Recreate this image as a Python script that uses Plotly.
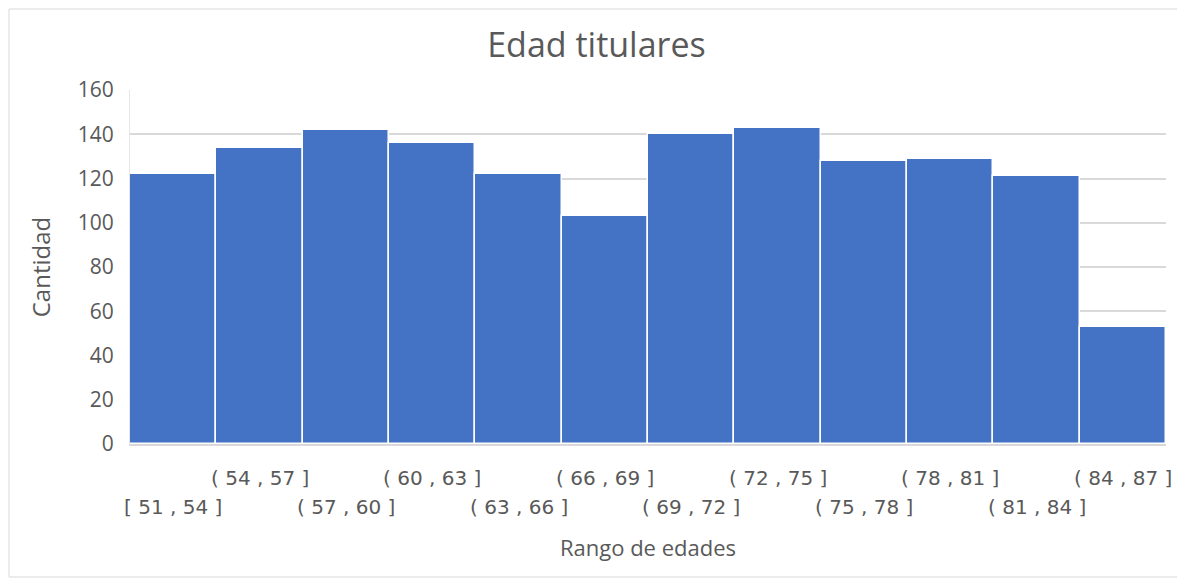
import plotly.graph_objects as go

# Age ranges and counts
rangos = ["[ 51 , 54 ]", "( 54 , 57 ]", "( 57 , 60 ]", "( 60 , 63 ]", "( 63 , 66 ]", "( 66 , 69 ]",
          "( 69 , 72 ]", "( 72 , 75 ]", "( 75 , 78 ]", "( 78 , 81 ]", "( 81 , 84 ]", "( 84 , 87 ]"]
cantidad = [122, 134, 142, 136, 122, 103, 140, 143, 128, 129, 121, 53]
y_ticks = [0, 20, 40, 60, 80, 100, 120, 140, 160]

FONT = "Open Sans, Noto Sans, sans-serif"
TICK_FONT = "DejaVu Sans, sans-serif"
GRAY = "#595959"

# page body adds 8px, so the figure is sized to fit the 1185x582 window
W, H = 1177, 574
M = dict(l=122, r=19, t=82, b=138)
PW = W - M['l'] - M['r']
PH = H - M['t'] - M['b']

x_pos = list(range(len(rangos)))

fig = go.Figure()

fig.add_trace(go.Bar(
    x=x_pos,
    y=cantidad,
    marker=dict(color="#4472C4", line=dict(color="white", width=1.5)),
    customdata=rangos,
    hovertemplate="%{customdata}<br>Cantidad: %{y}<extra></extra>",
))

# Excel-style staggered category labels: even positions on the lower row
for i, r in enumerate(rangos):
    fig.add_annotation(
        x=i, xref="x", y=0, yref="paper",
        text=r, showarrow=False,
        xanchor="center", yanchor="middle",
        yshift=-63 if i % 2 == 0 else -34,
        font=dict(family=TICK_FONT, size=20, color=GRAY),
    )

fig.update_layout(
    width=W,
    height=H,
    title={
        'text': 'Edad titulares',
        'x': 0.5,
        'xanchor': 'center',
        'y': 1 - 37 / H,
        'yanchor': 'middle',
        'font': {'size': 34, 'color': GRAY, 'family': FONT}
    },
    bargap=0,
    plot_bgcolor="white",
    paper_bgcolor="white",
    margin=M,
    showlegend=False,
    font=dict(family=FONT, color=GRAY),
    xaxis=dict(
        range=[-0.5, len(rangos) - 0.5],
        showticklabels=False,
        showgrid=False,
        showline=True,
        linecolor="#D9D9D9",
        linewidth=1.5,
        ticks="",
        title=dict(text="Rango de edades", font=dict(size=22, color=GRAY), standoff=96),
    ),
    yaxis=dict(
        range=[0, 160],
        tickvals=y_ticks,
        tickfont=dict(size=21, color=GRAY),
        showgrid=True,
        gridcolor="#D9D9D9",
        gridwidth=1.5,
        zeroline=False,
        showline=True,
        linecolor="#E6E6E6",
        ticks="",
        ticklabelstandoff=11,
        title=dict(text="Cantidad", font=dict(size=24, color=GRAY), standoff=20),
    ),
)

# Outer chart border like the Excel chart area
fig.add_shape(type="rect", xref="paper", yref="paper",
              x0=-121 / PW, x1=1 + 14 / PW, y0=-133 / PH, y1=1 + 81 / PH,
              line=dict(color="#D9D9D9", width=1))

fig.write_html("out.html")
